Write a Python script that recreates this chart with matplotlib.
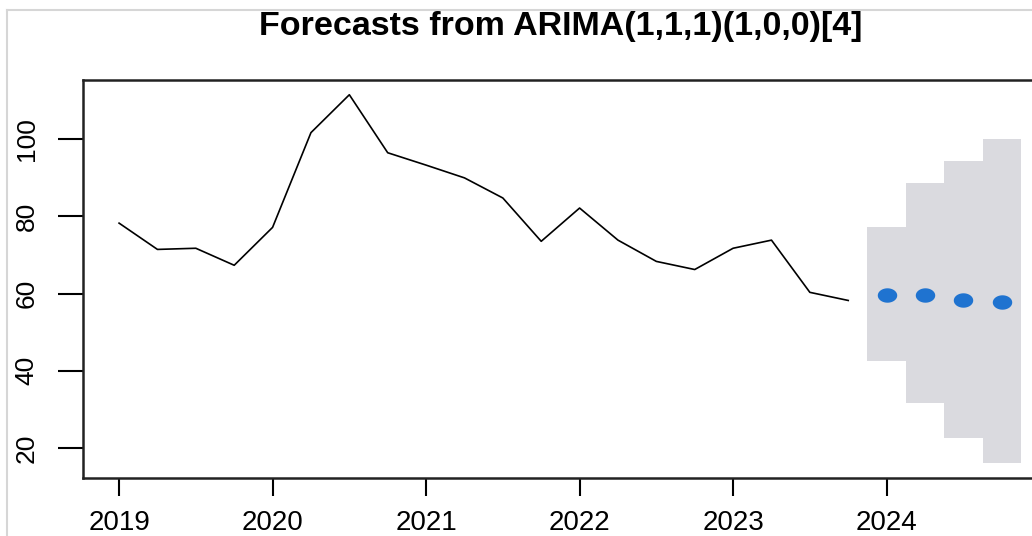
import numpy as np
import matplotlib
matplotlib.use("Agg")
import matplotlib.pyplot as plt
from matplotlib.path import Path
from matplotlib.lines import Line2D

# ---- data ----
start_year = 2019.0
freq = 4
observed = [78.2, 71.4, 71.7, 67.3, 77.1, 101.6, 111.4, 96.4, 93.2, 89.9,
            84.7, 73.5, 82.1, 73.8, 68.3, 66.2, 71.7, 73.8, 60.3, 58.2]
forecast_mean = [59.7, 59.7, 58.4, 57.9]
forecast_lo95 = [42.6, 31.7, 22.6, 16.1]
forecast_hi95 = [77.1, 88.6, 94.3, 100.0]
x_ticks = [2019, 2020, 2021, 2022, 2023, 2024]
y_ticks = [20, 40, 60, 80, 100]
title = "Forecasts from ARIMA(1,1,1)(1,0,0)[4]"

plt.rcParams['font.family'] = ['Liberation Sans', 'DejaVu Sans']

W, H = 1032, 536
fig = plt.figure(figsize=(W / 100, H / 100), dpi=100)
fig.patch.set_facecolor('white')

left, right, top, bottom = 83, 1057, 80, 478
ax = fig.add_axes([left / W, (H - bottom) / H, (right - left) / W, (bottom - top) / H])

t_obs = start_year + np.arange(len(observed)) / freq
t_fc = start_year + (len(observed) + np.arange(len(forecast_mean))) / freq
half = 0.5 / freq

# shaded interval as step blocks
for t, lo, hi in zip(t_fc, forecast_lo95, forecast_hi95):
    ax.fill_between([t - half, t + half], [lo, lo], [hi, hi],
                    color='#DADADF', linewidth=0, zorder=1)

ax.plot(t_obs, observed, color='black', linewidth=1.2, zorder=2)

# elliptical marker (horizontally stretched)
th = np.linspace(0, 2 * np.pi, 60)
ell = Path(np.column_stack([1.35 * np.cos(th), np.sin(th)]), closed=True)
ax.plot(t_fc, forecast_mean, linestyle='none', marker=ell, markersize=14,
        color='#1F73D0', markeredgewidth=0, zorder=3)

rng_x = t_fc[-1] + half - start_year
ax.set_xlim(start_year - 0.04 * rng_x, t_fc[-1] + half + 0.04 * rng_x)
ymin = min(min(observed), min(forecast_lo95))
ymax = max(max(observed), max(forecast_hi95))
ax.set_ylim(ymin - 0.04 * (ymax - ymin), ymax + 0.04 * (ymax - ymin))

ax.set_xticks(x_ticks)
ax.set_xticklabels([str(v) for v in x_ticks])
ax.set_yticks(y_ticks)
ax.set_yticklabels([str(v) for v in y_ticks], rotation=90, va='center')
ax.tick_params(axis='x', length=13, width=1.5, pad=10, labelsize=20, colors='black')
ax.tick_params(axis='y', length=18, width=1.5, pad=14, labelsize=19, colors='black')
for s in ax.spines.values():
    s.set_linewidth(1.8)
    s.set_color('#222222')

fig.text(561 / W, 1 - 27 / H, title, ha='center', va='center',
         fontsize=24.5, fontweight='bold', color='black')

# light screenshot frame lines
fig.add_artist(Line2D([7 / W, 1], [1 - 10 / H, 1 - 10 / H], color='#D6D6D6',
                      linewidth=1.5, transform=fig.transFigure))
fig.add_artist(Line2D([7 / W, 7 / W], [0, 1 - 10 / H], color='#D6D6D6',
                      linewidth=1.5, transform=fig.transFigure))

fig.savefig('out.png', dpi=100)
